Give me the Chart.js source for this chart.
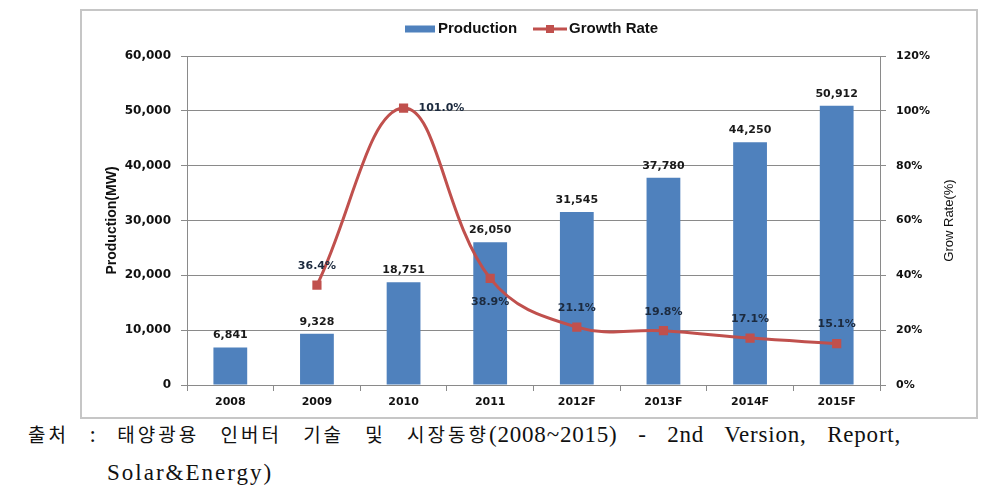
<!DOCTYPE html>
<html>
<head>
<meta charset="utf-8">
<script src="https://cdn.jsdelivr.net/npm/chart.js@4.4.0/dist/chart.umd.min.js"></script>
<style>
  body { margin: 0; background: #fff; width: 1002px; height: 492px; overflow: hidden; position: relative; }
  #box { position: absolute; left: 80px; top: 9px; width: 898px; height: 410px; border: 2px solid #c6c6c6; box-sizing: border-box; background: #fff; }
  #c { display: block; }
  .cap { position: absolute; white-space: nowrap; font-family: "Liberation Serif", serif; font-size: 23px; letter-spacing: 0.8px; word-spacing: 14px; color: #111; }
  .k { font-family: "Noto Sans CJK KR", sans-serif; font-size: 19px; letter-spacing: 3px; }
</style>
</head>
<body>
<div id="box"><canvas id="c" width="894" height="406"></canvas></div>
<div class="cap" style="left:28px;top:420px"><span class="k">출처</span> : <span class="k">태양광용 인버터 기술 및 시장동향</span>(2008~2015) - 2nd Version, Report,</div>
<div class="cap" style="left:107px;top:460px;letter-spacing:2px">Solar&amp;Energy)</div>

<script>
// values
const years = ['2008', '2009', '2010', '2011', '2012F', '2013F', '2014F', '2015F'];
const production = [6841, 9328, 18751, 26050, 31545, 37780, 44250, 50912];
const growthRate = [null, 36.4, 101.0, 38.9, 21.1, 19.8, 17.1, 15.1];
// where each growth label sits relative to its point
const growthLabelSide = ['', 'above', 'right', 'below', 'above', 'above', 'above', 'above'];

const BAR_BLUE = '#4F81BD';
const LINE_RED = '#C0504D';
const GRID = '#8a8a8a';

// legend, axis titles and value labels drawn on top of the chart
const extras = {
  id: 'extras',
  afterDatasetsDraw(chart) {
    const ctx = chart.ctx;
    const area = chart.chartArea;
    ctx.save();

    // bar values
    ctx.font = 'bold 11px "DejaVu Sans"';
    ctx.fillStyle = '#1a1a1a';
    ctx.textAlign = 'center';
    ctx.textBaseline = 'middle';
    chart.getDatasetMeta(0).data.forEach((bar, i) => {
      ctx.fillText(production[i].toLocaleString('en-US'), bar.x, bar.y - 12);
    });

    // growth values
    ctx.fillStyle = '#1c2a3e';
    chart.getDatasetMeta(1).data.forEach((pt, i) => {
      if (growthRate[i] == null) return;
      const txt = growthRate[i].toFixed(1) + '%';
      const side = growthLabelSide[i];
      if (side === 'right') {
        ctx.textAlign = 'left';
        ctx.fillText(txt, pt.x + 15, pt.y);
      } else if (side === 'below') {
        ctx.textAlign = 'center';
        ctx.fillText(txt, pt.x, pt.y + 24);
      } else {
        ctx.textAlign = 'center';
        ctx.fillText(txt, pt.x, pt.y - 19);
      }
    });

    // axis titles
    ctx.fillStyle = '#111';
    ctx.textAlign = 'center';
    ctx.save();
    ctx.translate(30, (area.top + area.bottom) / 2);
    ctx.rotate(-Math.PI / 2);
    ctx.font = 'bold 14px "Liberation Sans Narrow", "Liberation Sans"';
    ctx.fillText('Production(MW)', 0, 0);
    ctx.restore();
    ctx.save();
    ctx.translate(867, (area.top + area.bottom) / 2);
    ctx.rotate(-Math.PI / 2);
    ctx.font = '13px "Liberation Sans Narrow", "Liberation Sans"';
    ctx.fillText('Grow Rate(%)', 0, 0);
    ctx.restore();

    // legend
    const ly = 18;
    const ds = chart.data.datasets;
    ctx.font = 'bold 15px "Liberation Sans"';
    ctx.textAlign = 'left';
    ctx.fillStyle = BAR_BLUE;
    ctx.fillRect(323, ly - 3.5, 30, 7);
    ctx.fillStyle = '#111';
    ctx.fillText(ds[0].label, 356, ly);
    ctx.strokeStyle = LINE_RED;
    ctx.lineWidth = 3;
    ctx.beginPath();
    ctx.moveTo(451, ly);
    ctx.lineTo(485, ly);
    ctx.stroke();
    ctx.fillStyle = LINE_RED;
    ctx.fillRect(464, ly - 4, 8, 8);
    ctx.fillStyle = '#111';
    ctx.fillText(ds[1].label, 487, ly);

    ctx.restore();
  }
};

new Chart(document.getElementById('c'), {
  type: 'bar',
  data: {
    labels: years,
    datasets: [
      {
        label: 'Production',
        data: production,
        backgroundColor: BAR_BLUE,
        barPercentage: 0.39,
        categoryPercentage: 1,
        yAxisID: 'y',
        order: 2
      },
      {
        type: 'line',
        label: 'Growth Rate',
        data: growthRate,
        borderColor: LINE_RED,
        backgroundColor: LINE_RED,
        borderWidth: 3,
        tension: 0.4,
        pointStyle: 'rect',
        pointRadius: 6.5,
        pointBorderWidth: 0,
        yAxisID: 'y1',
        order: 1
      }
    ]
  },
  options: {
    responsive: false,
    animation: false,
    layout: { padding: { top: 45, left: 0, right: 0, bottom: 0 } },
    plugins: {
      legend: { display: false },
      tooltip: { enabled: false }
    },
    scales: {
      x: {
        grid: { drawOnChartArea: false, offset: true, tickLength: 6, color: GRID },
        border: { color: GRID },
        ticks: { font: { family: 'DejaVu Sans', size: 11, weight: 'bold' }, color: '#111', padding: 5 },
        afterFit(s) { s.height = 32; }
      },
      y: {
        position: 'left',
        min: 0,
        max: 60000,
        grid: { color: GRID, tickLength: 6 },
        border: { color: GRID },
        ticks: {
          stepSize: 10000,
          padding: 10,
          color: '#111',
          font: { family: 'DejaVu Sans', size: 12, weight: 'bold' },
          callback: v => v.toLocaleString('en-US')
        },
        afterFit(s) { s.width = 105; }
      },
      y1: {
        position: 'right',
        min: 0,
        max: 120,
        grid: { drawOnChartArea: false, color: GRID, tickLength: 6 },
        border: { color: GRID },
        ticks: {
          stepSize: 20,
          padding: 10,
          color: '#111',
          font: { family: 'DejaVu Sans', size: 11, weight: 'bold' },
          callback: v => v + '%'
        },
        afterFit(s) { s.width = 96; }
      }
    }
  },
  plugins: [extras]
});
</script>
</body>
</html>
